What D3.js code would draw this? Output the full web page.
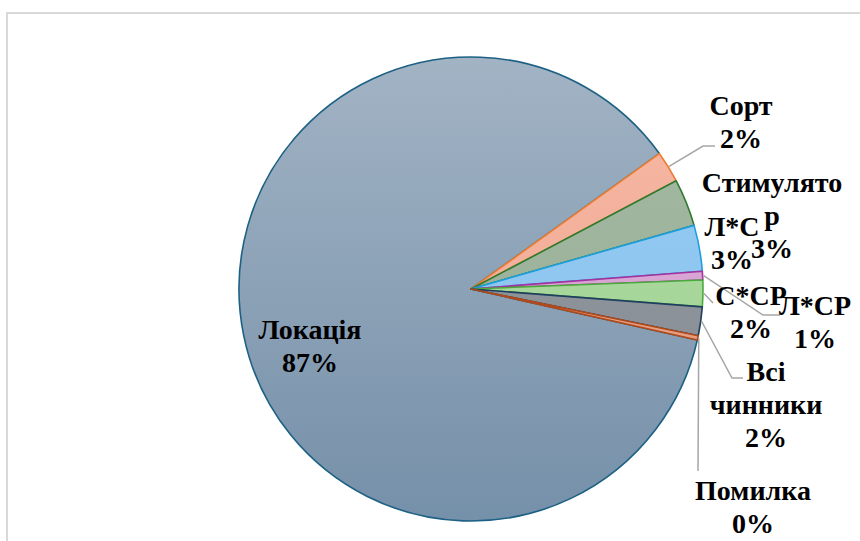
<!DOCTYPE html>
<html>
<head>
<meta charset="utf-8">
<script src="https://cdn.jsdelivr.net/npm/d3@7"></script>
<style>
  html, body { margin: 0; padding: 0; background: #fff; }
  svg { display: block; }
</style>
</head>
<body>
<svg id="chart" width="860" height="541"></svg>
<script>
// ---- data ----
const categories = ["Локація", "Сорт", "Стимулятор", "Л*С", "Л*СР", "С*СР", "Всі чинники", "Помилка"];
const values = [86.55, 2.2, 3.3, 3.2, 0.6, 1.85, 2.0, 0.3];
const labelLines = [["Локація"], ["Сорт"], ["Стимулято", "р"], ["Л*С"], ["Л*СР"], ["С*СР"], ["Всі", "чинники"], ["Помилка"]];

// ---- styles ----
const fillTop = ["#a2b3c4", "#f6b9a6", "#a6bba4", "#98cdf4", "#dcaed8", "#b0dca4", "#959ba1", "#eeaa90"];
const fillBot = ["#7590a9", "#efa48d", "#93aa91", "#85c0ec", "#d59acf", "#9fd192", "#848a91", "#e0957a"];
const strokes = ["#1c6184", "#ed7d31", "#2e7a2e", "#1e9fdc", "#a3339e", "#4aab3c", "#1e3f5f", "#b04a1a"];

// label layout: center x, first baseline, optional leader (elbow, end)
const labelLayout = [
  { x: 310, y: 339 },
  { x: 741, y: 115, leader: [[703, 146], [715, 146]] },
  { x: 772, y: 192 },
  { x: 732, y: 236 },
  { x: 815, y: 315, leader: [[763, 315], [780, 315]] },
  { x: 751, y: 305, leader: [[713, 303]] },
  { x: 766, y: 381, leader: [[732, 378], [743, 378]] },
  { x: 753, y: 500, leader: [[698, 471]] }
];

const svg = d3.select("#chart");
const cx = 471, cy = 289, r = 232;
const lineH = 33;

// border
svg.append("rect").attr("x", 7).attr("y", 13).attr("width", 900).attr("height", 600)
  .attr("fill", "none").attr("stroke", "#d9d9d9").attr("stroke-width", 2);

const defs = svg.append("defs");
categories.forEach((c, i) => {
  const g = defs.append("linearGradient").attr("id", "g" + i)
    .attr("gradientUnits", "userSpaceOnUse")
    .attr("x1", 0).attr("y1", -r).attr("x2", 0).attr("y2", r);
  g.append("stop").attr("offset", "0%").attr("stop-color", fillTop[i]);
  g.append("stop").attr("offset", "100%").attr("stop-color", fillBot[i]);
});

const startDeg = 102.7;
const pie = d3.pie().sort(null).value(d => d.v)
  .startAngle(startDeg * Math.PI / 180)
  .endAngle(startDeg * Math.PI / 180 + 2 * Math.PI);
const data = categories.map((c, i) => ({ c, v: values[i], i }));
const arcs = pie(data);
const arc = d3.arc().innerRadius(0).outerRadius(r);

const gPie = svg.append("g").attr("transform", `translate(${cx},${cy})`);
gPie.selectAll("path").data(arcs).enter().append("path")
  .attr("d", arc)
  .attr("fill", d => `url(#g${d.data.i})`)
  .attr("stroke", d => strokes[d.data.i])
  .attr("stroke-width", 1.6)
  .attr("stroke-linejoin", "round");

const total = d3.sum(values);

// leader lines
arcs.forEach(a => {
  const L = labelLayout[a.data.i];
  if (!L.leader) return;
  const mid = (a.startAngle + a.endAngle) / 2;
  const p0 = [cx + (r + 1) * Math.sin(mid), cy - (r + 1) * Math.cos(mid)];
  const pts = [p0].concat(L.leader);
  svg.append("path")
    .attr("d", d3.line()(pts))
    .attr("fill", "none").attr("stroke", "#a6a6a6").attr("stroke-width", 1.5);
});

// labels
arcs.forEach(a => {
  const i = a.data.i;
  const L = labelLayout[i];
  const pct = Math.round(values[i] / total * 100) + "%";
  const lines = labelLines[i].concat([pct]);
  const t = svg.append("text")
    .attr("text-anchor", "middle")
    .attr("font-family", "Liberation Serif")
    .attr("font-weight", "bold")
    .attr("font-size", 28)
    .attr("fill", "#000");
  lines.forEach((ln, k) => {
    t.append("tspan").attr("x", L.x).attr("y", L.y + k * lineH).text(ln);
  });
});
</script>
</body>
</html>
